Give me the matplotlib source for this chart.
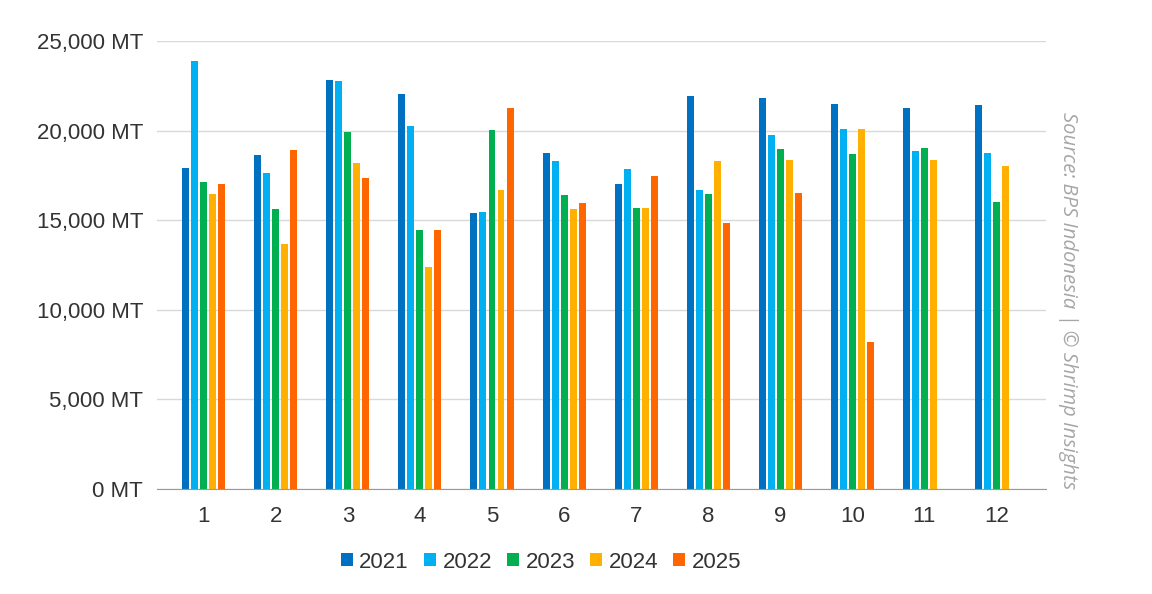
import numpy as np
import matplotlib.pyplot as plt
from matplotlib.ticker import FuncFormatter

plt.rcParams['font.family'] = ['Liberation Sans', 'DejaVu Sans']

months = [1, 2, 3, 4, 5, 6, 7, 8, 9, 10, 11, 12]
years = ['2021', '2022', '2023', '2024', '2025']
colors = ['#0070C0', '#00B0F0', '#00B050', '#FFB000', '#FF6600']

v2021 = [17930, 18620, 22810, 22060, 15380, 18770, 17040, 21910, 21800, 21500, 21240, 21450]
v2022 = [23880, 17620, 22750, 20260, 15480, 18320, 17880, 16670, 19750, 20110, 18860, 18750]
v2023 = [17110, 15630, 19920, 14470, 20020, 16420, 15680, 16480, 18970, 18710, 19010, 16030]
v2024 = [16480, 13690, 18170, 12390, 16690, 15630, 15680, 18320, 18380, 20110, 18380, 18020]
v2025 = [17040, 18940, 17340, 14440, 21260, 15980, 17490, 14840, 16540, 8200, np.nan, np.nan]
series = [v2021, v2022, v2023, v2024, v2025]

fig = plt.figure(figsize=(11.52, 5.94), dpi=100)
ax = fig.add_axes([157/1152, 1 - 489/594, (1046-157)/1152, (489-41)/594])

x = np.array(months, dtype=float)
pitch = 0.125
bw = 0.097
for i, (yr, vals) in enumerate(zip(years, series)):
    ax.bar(x + (i - 2) * pitch, vals, width=bw, color=colors[i], label=yr, zorder=3)

ax.set_xlim(0.35, 12.69)
ax.set_ylim(0, 25000)
ax.set_yticks(range(0, 25001, 5000))
ax.yaxis.set_major_formatter(FuncFormatter(lambda v, p: f"{int(v):,} MT"))
ax.set_xticks(months)
ax.tick_params(axis='both', length=0, labelsize=16, labelcolor='#333333')
ax.tick_params(axis='y', pad=10)
ax.tick_params(axis='x', pad=12)
ax.grid(axis='y', color='#d9d9d9', linewidth=1, zorder=0)
for s in ['top', 'right', 'left']:
    ax.spines[s].set_visible(False)
ax.spines['bottom'].set_color('#999999')
ax.spines['bottom'].set_zorder(4)

leg = fig.legend(loc='center', bbox_to_anchor=(541/1152, 1 - 562/594), ncol=5, frameon=False,
                 fontsize=16, handlelength=0.55, handleheight=0.55, handletextpad=0.28,
                 columnspacing=0.68)
for t in leg.get_texts():
    t.set_color('#333333')

fig.text(1068/1152, 1 - 301/594, 'Source: BPS Indonesia | © Shrimp Insights', rotation=270,
         ha='center', va='center', fontsize=14.5, style='italic', color='#a6a6a6',
         family=['Open Sans', 'DejaVu Sans'])

fig.savefig('out.png', dpi=100, facecolor='white')
